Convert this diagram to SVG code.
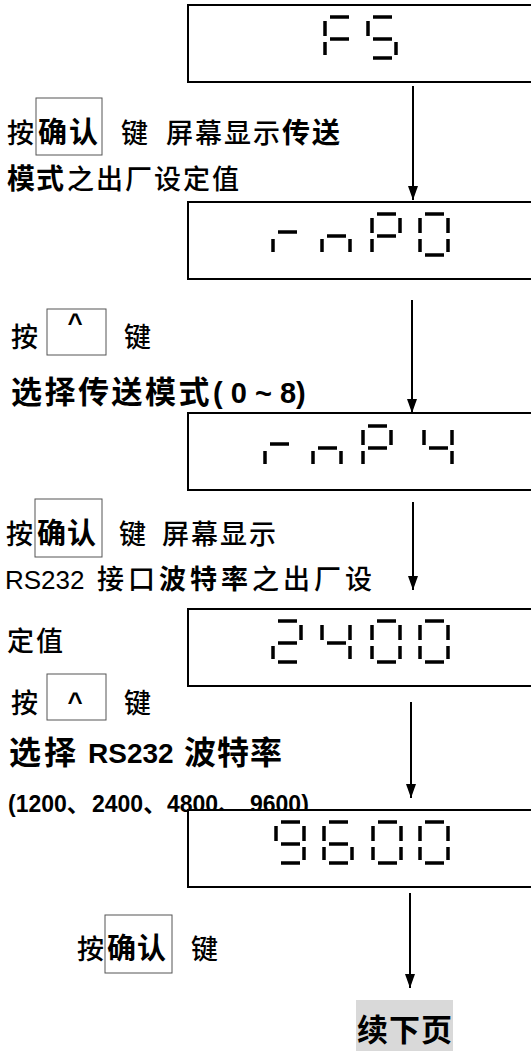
<svg xmlns="http://www.w3.org/2000/svg" xmlns:xlink="http://www.w3.org/1999/xlink" width="531" height="1051" viewBox="0 0 531 1051">
<style>
.t{font-family:"Liberation Sans","Noto Sans CJK SC",sans-serif;fill:#000}
.r{font-size:27px;font-weight:500}
.b{font-weight:700}
.cj{letter-spacing:2px}
.disp{fill:#fff;stroke:#000;stroke-width:2}
.kbox{fill:none;stroke:#555;stroke-width:1}
.conn{stroke:#000;stroke-width:2;fill:none}
</style>
<defs>
<marker id="ah" viewBox="0 0 14 10" refX="14" refY="5" markerWidth="14" markerHeight="10" markerUnits="userSpaceOnUse" orient="auto">
<path d="M0,0L14,5L0,10z" fill="#000"/>
</marker>
<path id="sa" d="M5,0H24"/>
<path id="sb" d="M28,4V19"/>
<path id="sc" d="M28,25V38"/>
<path id="sd" d="M5,41H24"/>
<path id="se" d="M0,25V38"/>
<path id="sf" d="M0,4V19"/>
<path id="sg" d="M5,22H24"/>
<path id="sr" d="M5,18H24"/>
<g id="d0"><use href="#sa"/><use href="#sb"/><use href="#sc"/><use href="#sd"/><use href="#se"/><use href="#sf"/></g>
<g id="d2"><use href="#sa"/><use href="#sb"/><use href="#sg"/><use href="#se"/><use href="#sd"/></g>
<g id="d4"><use href="#sf"/><use href="#sg"/><use href="#sb"/><use href="#sc"/></g>
<g id="d6"><use href="#sa"/><use href="#sf"/><use href="#sg"/><use href="#se"/><use href="#sc"/><use href="#sd"/></g>
<g id="d9"><use href="#sa"/><use href="#sb"/><use href="#sf"/><use href="#sg"/><use href="#sc"/><use href="#sd"/></g>
<g id="dF"><use href="#sa"/><use href="#sf"/><use href="#sg"/><use href="#se"/></g>
<g id="dS"><use href="#sa"/><use href="#sf"/><use href="#sg"/><use href="#sc"/><use href="#sd"/></g>
<g id="dr"><use href="#sr"/><use href="#se"/></g>
<g id="dn"><use href="#sg"/><use href="#se"/><use href="#sc"/></g>
<g id="dP"><use href="#sa"/><use href="#sb"/><use href="#sf"/><use href="#sg"/><use href="#se"/></g>
</defs>

<!-- labels -->
<g id="label1" class="t r">
<text x="7" y="143">按</text>
<rect class="kbox" x="36" y="98" width="66" height="57"/>
<text x="38" y="143" class="b cj" font-size="29" letter-spacing="1">确认</text>
<text x="121" y="143">键</text>
<text x="166" y="143" class="cj">屏幕显示</text>
<text x="282" y="143" class="b cj" font-size="28" letter-spacing="1">传送</text>
</g>
<g id="label2" class="t r">
<text x="7" y="189" class="b" font-size="28" letter-spacing="1">模式</text>
<text x="67" y="189" class="cj">之出厂设定值</text>
</g>
<g id="label3" class="t r">
<text x="11" y="347">按</text>
<rect class="kbox" x="47" y="309" width="59" height="46"/>
<text x="75" y="332" class="b" font-size="26" text-anchor="middle">^</text>
<text x="124" y="347">键</text>
</g>
<g id="label4" class="t b" font-size="29">
<text x="11" y="403"><tspan font-size="31" letter-spacing="2.5">选择传送模式</tspan><tspan x="213">( 0 ~ 8)</tspan></text>
</g>
<g id="label5" class="t r">
<text x="6" y="544">按</text>
<rect class="kbox" x="35" y="499" width="67" height="58"/>
<text x="37" y="544" class="b" font-size="29" letter-spacing="1">确认</text>
<text x="119" y="544">键</text>
<text x="162" y="544" class="cj">屏幕显示</text>
</g>
<g id="label6" class="t r">
<text x="5" y="589" font-size="26" font-weight="400">RS232</text>
<text x="97" y="589" letter-spacing="4"><tspan>接口</tspan><tspan class="b">波特率</tspan><tspan>之出厂设</tspan></text>
</g>
<g id="label7" class="t r">
<text x="7" y="651" class="cj">定值</text>
</g>
<g id="label8" class="t r">
<text x="11" y="713">按</text>
<rect class="kbox" x="47" y="674" width="59" height="46"/>
<text x="75" y="711" class="b" font-size="26" text-anchor="middle">^</text>
<text x="124" y="713">键</text>
</g>
<g id="label9" class="t b" font-size="28">
<text x="9" y="764" font-size="32" letter-spacing="3">选择</text>
<text x="88" y="763">RS232</text>
<text x="184" y="764" font-size="32" letter-spacing="1">波特率</text>
</g>
<g id="label10" class="t b" font-size="23">
<text x="8" y="812">(1200、</text>
<text x="92" y="812">2400、</text>
<text x="167" y="812">4800、</text>
<text x="250" y="812">9600)</text>
</g>
<g id="label11" class="t r">
<text x="77" y="959">按</text>
<rect class="kbox" x="105" y="915" width="67" height="58"/>
<text x="107" y="959" class="b" font-size="29" letter-spacing="1">确认</text>
<text x="191" y="959">键</text>
</g>
<g id="next">
<rect x="356" y="1000" width="97" height="51" fill="#d9d9d9"/>
<text x="357" y="1041" class="t b" font-size="31" letter-spacing="1">续下页</text>
</g>

<!-- display nodes -->
<g id="disp1">
<rect class="disp" x="188" y="5" width="360" height="77"/>
<g stroke="#000" stroke-width="3.5" fill="none">
<use href="#dF" x="325" y="17"/><use href="#dS" x="368" y="17"/>
</g>
</g>
<g id="disp2">
<rect class="disp" x="188" y="202" width="360" height="77"/>
<g stroke="#000" stroke-width="3.5" fill="none">
<use href="#dr" x="273" y="214"/><use href="#dn" x="322" y="214"/><use href="#dP" x="372" y="214"/><use href="#d0" x="420" y="214"/>
</g>
</g>
<g id="disp3">
<rect class="disp" x="188" y="413" width="360" height="77"/>
<g stroke="#000" stroke-width="3.5" fill="none">
<use href="#dr" x="265" y="426"/><use href="#dn" x="313" y="426"/><use href="#dP" x="363" y="426"/><use href="#d4" x="424" y="426"/>
</g>
</g>
<g id="disp4">
<rect class="disp" x="188" y="609" width="360" height="77"/>
<g stroke="#000" stroke-width="3.5" fill="none">
<use href="#d2" x="273" y="621"/><use href="#d4" x="322" y="621"/><use href="#d0" x="372" y="621"/><use href="#d0" x="420" y="621"/>
</g>
</g>
<g id="disp5">
<rect class="disp" x="188" y="810" width="360" height="77"/>
<g stroke="#000" stroke-width="3.5" fill="none">
<use href="#d9" x="276" y="822"/><use href="#d6" x="324" y="822"/><use href="#d0" x="373" y="822"/><use href="#d0" x="420" y="822"/>
</g>
</g>

<!-- connectors -->
<g id="connectors" class="conn">
<line x1="413" y1="86" x2="413" y2="200" marker-end="url(#ah)"/>
<line x1="412" y1="300" x2="412" y2="413" marker-end="url(#ah)"/>
<line x1="413" y1="502" x2="413" y2="590" marker-end="url(#ah)"/>
<line x1="411" y1="702" x2="411" y2="798" marker-end="url(#ah)"/>
<line x1="410" y1="893" x2="410" y2="988" marker-end="url(#ah)"/>
</g>
</svg>
